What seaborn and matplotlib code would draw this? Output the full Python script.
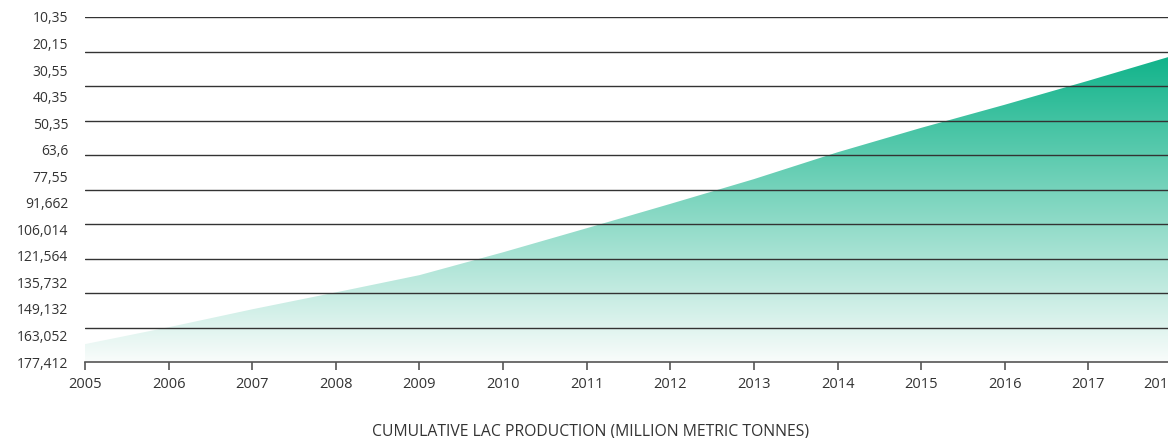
import numpy as np
import pandas as pd
import matplotlib
matplotlib.use("Agg")
import matplotlib.pyplot as plt
import matplotlib.transforms as mtransforms
from matplotlib.colors import LinearSegmentedColormap
import seaborn as sns

# Cumulative LAC production by year (million metric tonnes)
years = [2005, 2006, 2007, 2008, 2009, 2010, 2011,
         2012, 2013, 2014, 2015, 2016, 2017, 2018]
cumulative = [10.35, 20.15, 30.55, 40.35, 50.35, 63.6, 77.55,
              91.662, 106.014, 121.564, 135.732, 149.132, 163.052, 177.412]
tick_labels = ["10,35", "20,15", "30,55", "40,35", "50,35", "63,6", "77,55",
               "91,662", "106,014", "121,564", "135,732", "149,132",
               "163,052", "177,412"]
x_label = "CUMULATIVE LAC PRODUCTION (MILLION METRIC TONNES)"

df = pd.DataFrame({"year": years, "value": cumulative})

sns.set_style("white")
plt.rcParams["font.family"] = ["Open Sans", "DejaVu Sans"]

W, H = 1168, 438
fig = plt.figure(figsize=(W / 100, H / 100), dpi=100)
# x-range 2005..2018 spans pixels 85..1172 (last year runs off the right edge)
left, right = 85, 1172
top, bottom = 17, 362
ax = fig.add_axes([left / W, 1 - bottom / H, (right - left) / W, (bottom - top) / H])

ymin, ymax = 0, 200

# outline of the area (kept invisible; the fill carries the shape)
sns.lineplot(data=df, x="year", y="value", ax=ax, lw=0, color="#10b38a")

# gradient fill clipped to the area under the curve
poly = ax.fill_between(df["year"], 0, df["value"], facecolor="none", edgecolor="none")
cmap = LinearSegmentedColormap.from_list("lac", ["#f9fcfb", "#10b38a"])
grad = np.linspace(0, 1, 256).reshape(-1, 1)
img = ax.imshow(grad, cmap=cmap, origin="lower", aspect="auto",
                extent=[years[0], years[-1], 0, max(cumulative)],
                interpolation="bicubic", zorder=1)
img.set_clip_path(poly.get_paths()[0], transform=ax.transData)
ax.set_xlim(years[0], years[-1])
ax.set_ylim(ymin, ymax)

# horizontal grid every 20
for g in np.arange(20, 201, 20):
    ax.axhline(g, color="#333333", lw=1.0, zorder=3)

# y labels evenly spread along the axis, listed from top to bottom
ax.set_yticks(np.linspace(ymax, ymin, len(tick_labels)))
ax.set_yticklabels(tick_labels, fontsize=10, color="#333333")
ax.tick_params(axis="y", length=0, pad=12)

ax.set_xticks(years)
ax.set_xticklabels([str(y) for y in years], fontsize=10.5, color="#333333")
ax.tick_params(axis="x", direction="out", length=6, width=1.2,
               color="#555555", pad=5, bottom=True)
# nudge the last year label inward so most of it stays on the canvas
last = ax.get_xticklabels()[-1]
last.set_transform(last.get_transform() +
                   mtransforms.ScaledTranslation(-12 / 100, 0, fig.dpi_scale_trans))

for s in ["top", "right", "left"]:
    ax.spines[s].set_visible(False)
ax.spines["bottom"].set_color("#555555")
ax.spines["bottom"].set_linewidth(1.2)
ax.spines["bottom"].set_zorder(4)

ax.set_xlabel("")
ax.set_ylabel("")
fig.text(591 / W, 1 - 431 / H, x_label, ha="center", va="center",
         fontsize=11.3, color="#333333")

fig.savefig("out.png", dpi=100)
